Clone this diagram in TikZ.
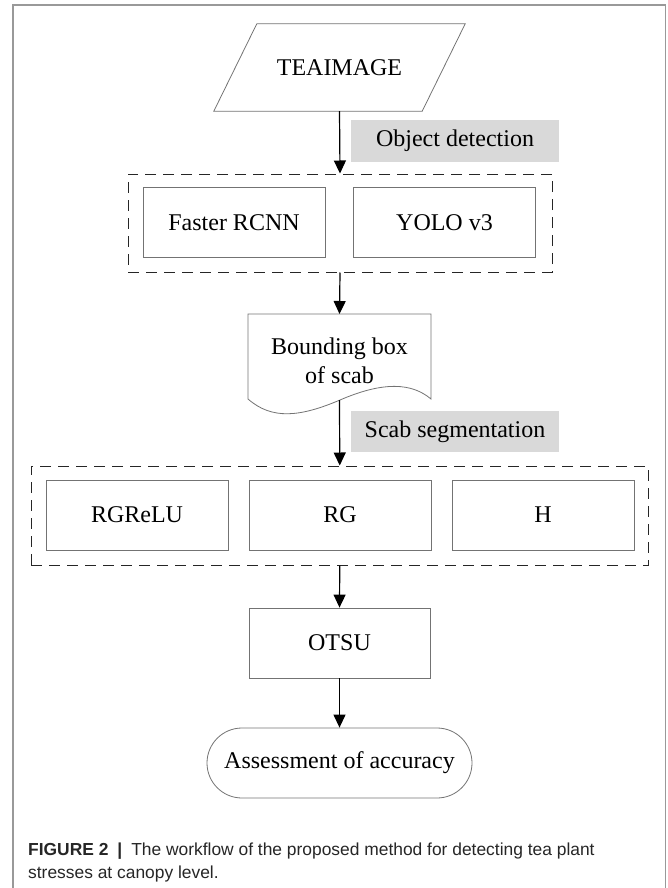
\documentclass[tikz,border=0pt]{standalone}
\usepackage{fontspec}
\setmainfont{Liberation Serif}
\newfontfamily\captionfont{Liberation Sans}
\usetikzlibrary{shapes.geometric, arrows.meta, positioning}

\begin{document}
\begin{tikzpicture}[
    x=1pt, y=-1pt,
    box/.style={rectangle, draw=black!55, line width=0.8pt, minimum width=182pt, minimum height=70pt, align=center, font=\fontsize{24}{29}\selectfont},
    outline/.style={draw=black!55, line width=0.8pt},
    stagelabel/.style={rectangle, fill=gray!30, minimum width=208pt, minimum height=41pt, font=\fontsize{24}{29}\selectfont},
    group/.style={rectangle, draw=black!85, line width=1pt, dash pattern=on 11pt off 7pt},
    flow/.style={-{Triangle[length=13pt, width=12pt]}, line width=1.2pt}
]
    \useasboundingbox (0,0) rectangle (667,888);
    % outer frame
    \draw[black!40, line width=1.3pt] (13,890) -- (13,5) -- (665.5,5) -- (665.5,890);

    % Input (parallelogram)
    \node[rectangle, minimum width=208pt, minimum height=87pt, font=\fontsize{24}{29}\selectfont] (image) at (339.5,67.5) {TEAIMAGE};
    \draw[outline] ([xshift=21.5pt]image.north west) -- ([xshift=21.5pt]image.north east)
        -- ([xshift=-21.5pt]image.south east) -- ([xshift=-21.5pt]image.south west) -- cycle;
    \node[stagelabel] (detlabel) at (455,141) {Object detection};

    % Detection models
    \node[group, minimum width=424pt, minimum height=98pt] (detgroup) at (340,223) {};
    \node[box] (frcnn) at (234,222.5) {Faster RCNN};
    \node[box] (yolo) at (444.5,222.5) {YOLO v3};

    % Bounding box document
    \node[rectangle, minimum width=183pt, minimum height=85pt, align=center, font=\fontsize{24}{29}\selectfont, yshift=-4pt] (bbox) at (339.5,356.5) {Bounding box\\of scab};
    \draw[outline] (248,399) -- (248,314) -- (431,314) -- (431,399)
        .. controls (412,383) and (384,381) .. (340,400)
        .. controls (300,417) and (272,420) .. (248,399);
    \node[stagelabel] (seglabel) at (455,431.5) {Scab segmentation};

    % Segmentation methods
    \node[group, minimum width=617.5pt, minimum height=99pt] (seggroup) at (339.75,515.5) {};
    \node[box] (rgrelu) at (137,515) {RGReLU};
    \node[box] (rg) at (340,515) {RG};
    \node[box] (hue) at (543,515) {H};

    % Threshold and evaluation
    \node[box, minimum width=181pt] (otsu) at (339.5,643) {OTSU};
    \node[box, rounded corners=35pt, minimum width=265pt] (assess) at (339.5,763) {Assessment of accuracy};

    % Arrows
    \draw[flow] (image.south) -- (detgroup.north);
    \draw[flow] (detgroup.south) -- (339.5,314);
    \draw[flow] (339.5,400) -- (seggroup.north);
    \draw[flow] (seggroup.south) -- (otsu.north);
    \draw[flow] (otsu) -- (assess);

    % Caption (base = last line)
    \node[anchor=base west, align=left, inner sep=0pt, text=black!85, font=\captionfont\fontsize{17.4}{23}\selectfont] (caption) at (28,878)
        {\textbf{FIGURE 2}\hspace{9pt}\textbf{|}\hspace{9pt}The workflow of the proposed method for detecting tea plant\\stresses at canopy level.};
\end{tikzpicture}
\end{document}
